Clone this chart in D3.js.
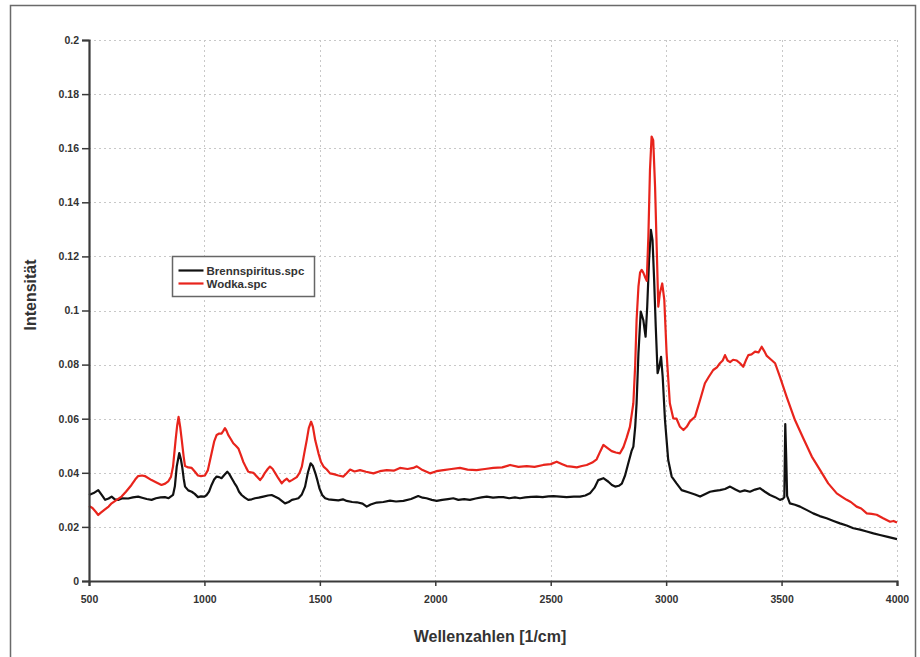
<!DOCTYPE html>
<html>
<head>
<meta charset="utf-8">
<script src="https://cdn.jsdelivr.net/npm/d3@7"></script>
<style>
  html, body { margin: 0; padding: 0; background: #fff; }
  svg { display: block; }
  text { font-family: "Liberation Sans", Arial, sans-serif; }
</style>
</head>
<body>
<svg id="chart" width="920" height="657"></svg>
<script>
// ---- Data ----
const xTicks = [500, 1000, 1500, 2000, 2500, 3000, 3500, 4000];
const yTicks = [0, 0.02, 0.04, 0.06, 0.08, 0.1, 0.12, 0.14, 0.16, 0.18, 0.2];
const seriesNames = ["Brennspiritus.spc", "Wodka.spc"];

const brennX = [500,520,540,555,570,585,598,612,626,645,670,690,713,730,750,771,790,810,829,845,864,872,880,891,898,904,910,916,930,945,958,972,985,1000,1010,1020,1031,1042,1053,1064,1074,1086,1099,1108,1118,1130,1140,1150,1161,1175,1190,1205,1219,1235,1255,1275,1291,1305,1320,1335,1349,1365,1379,1395,1407,1422,1436,1448,1460,1470,1480,1490,1498,1510,1523,1537,1558,1580,1600,1616,1640,1660,1685,1703,1720,1746,1775,1804,1830,1862,1895,1926,1945,1962,1985,2006,2030,2055,2078,2100,2125,2150,2175,2200,2223,2250,2275,2295,2320,2345,2367,2390,2415,2439,2465,2490,2512,2540,2569,2600,2627,2650,2670,2690,2706,2728,2750,2765,2779,2795,2808,2822,2836,2850,2858,2866,2872,2880,2890,2901,2911,2918,2926,2934,2941,2948,2955,2963,2970,2978,2985,2995,3009,3024,3045,3067,3096,3125,3147,3170,3190,3210,3233,3255,3277,3300,3320,3340,3363,3385,3406,3428,3450,3472,3493,3506,3512,3516,3520,3524,3536,3558,3580,3610,3637,3665,3695,3725,3753,3782,3811,3840,3869,3898,3926,3960,4000];
const brennY = [0.0318,0.0325,0.0336,0.0318,0.0300,0.0305,0.0312,0.0302,0.0300,0.0306,0.0305,0.0309,0.0312,0.0308,0.0303,0.0300,0.0306,0.0309,0.0310,0.0306,0.0318,0.0350,0.0423,0.0473,0.0450,0.0420,0.0380,0.0349,0.0335,0.0330,0.0322,0.0310,0.0313,0.0312,0.0318,0.0330,0.0355,0.0375,0.0386,0.0384,0.0380,0.0392,0.0404,0.0395,0.0380,0.0362,0.0349,0.0330,0.0318,0.0308,0.0300,0.0302,0.0306,0.0308,0.0312,0.0316,0.0318,0.0312,0.0306,0.0296,0.0287,0.0292,0.0300,0.0303,0.0306,0.0320,0.0349,0.0400,0.0435,0.0425,0.0400,0.0370,0.0343,0.0318,0.0306,0.0302,0.0300,0.0298,0.0302,0.0296,0.0292,0.0291,0.0286,0.0275,0.0283,0.0290,0.0292,0.0297,0.0294,0.0296,0.0303,0.0314,0.0308,0.0306,0.0300,0.0296,0.0300,0.0303,0.0306,0.0300,0.0303,0.0300,0.0305,0.0309,0.0312,0.0308,0.0310,0.0310,0.0306,0.0309,0.0306,0.0309,0.0311,0.0312,0.0310,0.0313,0.0314,0.0312,0.0310,0.0312,0.0312,0.0316,0.0324,0.0345,0.0373,0.0380,0.0367,0.0355,0.0349,0.0352,0.0360,0.0390,0.0435,0.0480,0.0497,0.0570,0.0657,0.0842,0.0996,0.0965,0.0903,0.1014,0.1187,0.1298,0.1260,0.1113,0.0940,0.0768,0.0790,0.0829,0.0755,0.0595,0.0447,0.0386,0.0361,0.0336,0.0328,0.0320,0.0312,0.0322,0.0330,0.0333,0.0336,0.0340,0.0349,0.0338,0.0330,0.0335,0.0330,0.0338,0.0343,0.0330,0.0318,0.0310,0.0300,0.0304,0.0310,0.0580,0.0460,0.0315,0.0287,0.0282,0.0275,0.0262,0.0250,0.0240,0.0232,0.0222,0.0213,0.0205,0.0195,0.0190,0.0183,0.0176,0.0170,0.0163,0.0155];

const wodkaX = [500,515,530,540,550,565,585,598,620,641,660,684,700,713,730,742,771,790,814,830,843,855,864,875,882,888,895,902,910,916,930,945,958,972,985,1002,1015,1031,1042,1053,1064,1074,1082,1089,1096,1103,1114,1125,1136,1147,1158,1168,1180,1190,1212,1228,1241,1252,1262,1275,1284,1295,1306,1320,1335,1347,1357,1368,1379,1400,1412,1422,1432,1443,1452,1462,1470,1480,1494,1505,1516,1530,1544,1560,1580,1602,1616,1631,1650,1674,1700,1732,1760,1790,1820,1847,1880,1905,1920,1945,1977,2005,2035,2070,2107,2140,2179,2215,2251,2290,2324,2360,2396,2430,2468,2500,2526,2550,2569,2590,2613,2635,2656,2680,2699,2715,2728,2745,2764,2782,2800,2815,2829,2843,2858,2866,2872,2880,2887,2894,2901,2908,2916,2923,2930,2937,2944,2952,2959,2966,2973,2983,2992,3002,3016,3031,3045,3060,3075,3089,3103,3125,3147,3168,3185,3204,3220,3233,3245,3255,3266,3277,3290,3306,3320,3334,3345,3356,3370,3385,3400,3414,3425,3436,3455,3472,3493,3522,3558,3594,3631,3667,3702,3739,3760,3782,3800,3825,3845,3869,3890,3912,3940,3970,3985,4000];
const wodkaY = [0.0277,0.0270,0.0255,0.0244,0.0252,0.0262,0.0275,0.0287,0.0300,0.0312,0.0330,0.0355,0.0375,0.0388,0.0390,0.0388,0.0373,0.0365,0.0355,0.0360,0.0368,0.0385,0.0423,0.0520,0.0575,0.0607,0.0570,0.0520,0.0460,0.0425,0.0420,0.0418,0.0405,0.0390,0.0388,0.0390,0.0410,0.0472,0.0515,0.0540,0.0545,0.0545,0.0555,0.0565,0.0555,0.0540,0.0525,0.0509,0.0500,0.0490,0.0465,0.0441,0.0420,0.0404,0.0400,0.0385,0.0373,0.0385,0.0400,0.0415,0.0423,0.0415,0.0400,0.0380,0.0361,0.0372,0.0378,0.0368,0.0373,0.0384,0.0400,0.0423,0.0470,0.0520,0.0565,0.0589,0.0570,0.0520,0.0472,0.0440,0.0423,0.0412,0.0398,0.0395,0.0390,0.0386,0.0398,0.0412,0.0405,0.0410,0.0404,0.0398,0.0406,0.0410,0.0408,0.0418,0.0414,0.0418,0.0424,0.0410,0.0398,0.0406,0.0410,0.0414,0.0418,0.0412,0.0410,0.0414,0.0418,0.0420,0.0429,0.0422,0.0425,0.0422,0.0429,0.0432,0.0441,0.0432,0.0425,0.0423,0.0420,0.0425,0.0429,0.0438,0.0450,0.0480,0.0503,0.0492,0.0480,0.0475,0.0472,0.0495,0.0530,0.0570,0.0657,0.0800,0.0965,0.1088,0.1140,0.1150,0.1140,0.1125,0.1110,0.1273,0.1520,0.1643,0.1630,0.1458,0.1236,0.1014,0.1064,0.1100,0.1039,0.0842,0.0657,0.0601,0.0600,0.0570,0.0558,0.0570,0.0590,0.0607,0.0669,0.0731,0.0755,0.0780,0.0790,0.0805,0.0815,0.0835,0.0815,0.0809,0.0818,0.0815,0.0805,0.0792,0.0815,0.0835,0.0838,0.0848,0.0845,0.0866,0.0850,0.0832,0.0818,0.0805,0.0755,0.0681,0.0595,0.0528,0.0460,0.0410,0.0361,0.0324,0.0312,0.0300,0.0292,0.0275,0.0268,0.0250,0.0248,0.0245,0.0232,0.0219,0.0222,0.0216];

// ---- Layout ----
const svg = d3.select("#chart");
const plotL = 89, plotR = 897, plotT = 40, plotB = 581;
const x = d3.scaleLinear().domain([500, 4000]).range([plotL, plotR]);
const y = d3.scaleLinear().domain([0, 0.2]).range([plotB, plotT]);

// outer frame
svg.append("rect").attr("x", 10.5).attr("y", 5.5).attr("width", 905).attr("height", 660)
  .attr("fill", "none").attr("stroke", "#6a6a6a").attr("stroke-width", 1.5);

// gridlines
const grid = svg.append("g").attr("stroke", "#c8c8c8").attr("stroke-width", 1).attr("stroke-dasharray", "2,3");
grid.selectAll("line.h").data(yTicks.filter(d => d > 0)).join("line").attr("class", "h")
  .attr("x1", plotL).attr("x2", plotR).attr("y1", d => Math.round(y(d)) + 0.5).attr("y2", d => Math.round(y(d)) + 0.5);
grid.selectAll("line.v").data(xTicks.filter(d => d > 500)).join("line").attr("class", "v")
  .attr("x1", d => Math.round(x(d)) + 0.5).attr("x2", d => Math.round(x(d)) + 0.5).attr("y1", plotT).attr("y2", plotB);

// series
const pts = (xs, ys) => xs.map((v, i) => [v, ys[i]]);
const line = d3.line().x(d => x(d[0])).y(d => y(d[1]));
svg.append("path").datum(pts(brennX, brennY)).attr("d", line)
  .attr("fill", "none").attr("stroke", "#111").attr("stroke-width", 2.2).attr("stroke-linejoin", "round");
svg.append("path").datum(pts(wodkaX, wodkaY)).attr("d", line)
  .attr("fill", "none").attr("stroke", "#e8241c").attr("stroke-width", 2.2).attr("stroke-linejoin", "round");

// axes
const yAxis = d3.axisLeft(y).tickValues(yTicks).tickSize(7).tickPadding(3)
  .tickFormat(d => d === 0 ? "0" : String(+d.toFixed(2)));
const gy = svg.append("g").attr("transform", `translate(${plotL},0)`).call(yAxis);
const xAxis = d3.axisBottom(x).tickValues(xTicks).tickSize(5).tickPadding(10).tickFormat(d3.format("d"));
const gx = svg.append("g").attr("transform", `translate(0,${plotB})`).call(xAxis);
[gx, gy].forEach(g => {
  g.select(".domain").attr("stroke", "#3a3a3a").attr("stroke-width", 2.2);
  g.selectAll(".tick line").attr("stroke", "#3a3a3a").attr("stroke-width", 1.5);
  g.selectAll(".tick text").attr("fill", "#333").attr("font-size", 10.5).attr("font-weight", "bold")
    .attr("font-family", "'Liberation Sans', Arial, sans-serif");
});

// axis titles
svg.append("text").attr("x", 490).attr("y", 642).attr("text-anchor", "middle")
  .attr("font-size", 16).attr("font-weight", "bold").attr("fill", "#333").text("Wellenzahlen [1/cm]");
svg.append("text").attr("transform", "translate(36,295) rotate(-90)").attr("text-anchor", "middle")
  .attr("font-size", 16).attr("font-weight", "bold").attr("fill", "#333").text("Intensität");

// legend
const lg = svg.append("g").attr("transform", "translate(172.5,256.5)");
lg.append("rect").attr("width", 142).attr("height", 40).attr("fill", "#fff")
  .attr("stroke", "#666").attr("stroke-width", 1.5);
const colors = ["#111", "#e8241c"];
seriesNames.forEach((n, i) => {
  const yy = 14 + i * 13;
  lg.append("line").attr("x1", 6).attr("x2", 31).attr("y1", yy).attr("y2", yy)
    .attr("stroke", colors[i]).attr("stroke-width", 2.2);
  lg.append("text").attr("x", 34).attr("y", yy + 4).attr("font-size", 11.5).attr("font-weight", "bold")
    .attr("fill", "#333").text(n);
});
</script>
</body>
</html>
